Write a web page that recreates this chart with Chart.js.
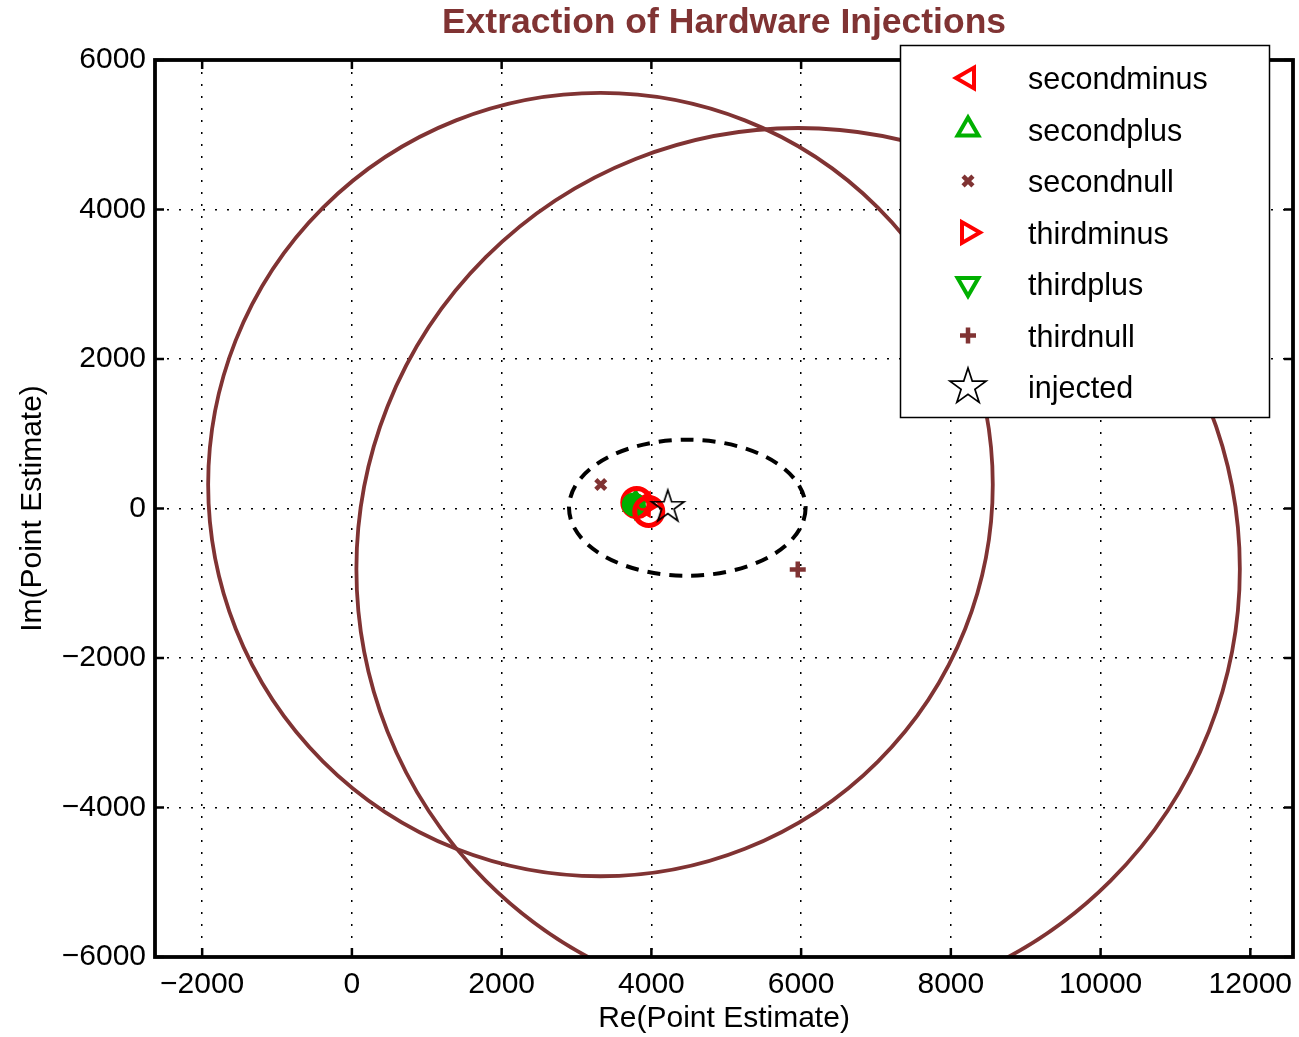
<!DOCTYPE html>
<html><head><meta charset="utf-8">
<script src="https://cdn.jsdelivr.net/npm/chart.js@4.4.1/dist/chart.umd.min.js"></script>
<style>html,body{margin:0;padding:0;background:#fff;overflow:hidden;}#wrap{width:1299px;height:1037px;position:relative;}canvas{display:block;}</style>
</head><body><div id="wrap"><canvas id="c"></canvas></div>
<script>
// ---- data ----
const seriesNames = ['secondminus','secondplus','secondnull','thirdminus','thirdplus','thirdnull','injected'];
const estimateRe  = [3885, 3790, 3324, 3905, 3780, 5955, 4219];
const estimateIm  = [54, 60, 321, 35, 45, -816, 20];
// spread of the individual estimates around the cluster
const spreadRe = [3805, 3765, 3965, 3885];
const spreadIm = [80, 54, -40, 54];
// circles of the null streams
const nullCircleRe = [3320, 5960];
const nullCircleIm = [320, -810];
const nullCircleRadius = [5240, 5900];
// dashed error ellipse
const ellipseCenter = [4480, 10];
const ellipseHalfAxes = [1580, 910];
// ticks / limits
const xTickValues = [-2000, 0, 2000, 4000, 6000, 8000, 10000, 12000];
const yTickValues = [-6000, -4000, -2000, 0, 2000, 4000, 6000];
const xLimits = [-2630, 12570];
const yLimits = [-6000, 6000];
const titleText = 'Extraction of Hardware Injections';
const xTitle = 'Re(Point Estimate)';
const yTitle = 'Im(Point Estimate)';

// ---- styles ----
const RED = '#ff0000', GREEN = '#00b000', MAROON = '#803333';
const FONT = '"Liberation Sans", Arial, Helvetica, sans-serif';
const fmt = v => (v < 0 ? '\u2212' + Math.abs(v) : String(v));

function starCanvas(R, lw) {
  const s = Math.ceil(2 * R + 2 * lw + 4);
  const c = document.createElement('canvas');
  c.width = s; c.height = s;
  const g = c.getContext('2d');
  g.translate(s / 2, s / 2);
  g.beginPath();
  for (let i = 0; i < 10; i++) {
    const a = -Math.PI / 2 + i * Math.PI / 5;
    const r = i % 2 ? R * 0.382 : R;
    const px = Math.cos(a) * r, py = Math.sin(a) * r;
    if (i === 0) g.moveTo(px, py); else g.lineTo(px, py);
  }
  g.closePath();
  g.lineWidth = lw; g.strokeStyle = '#000'; g.stroke();
  return c;
}
const starPlot = starCanvas(17, 1.7);
const starLegend = starCanvas(19, 1.7);

const styleOf = [
  {color: RED, pointStyle: 'triangle', rotation: -90, radius: 12, bw: 4},
  {color: GREEN, pointStyle: 'triangle', rotation: 0, radius: 12, bw: 4},
  {color: MAROON, pointStyle: 'crossRot', rotation: 0, radius: 7, bw: 4.5},
  {color: RED, pointStyle: 'triangle', rotation: 90, radius: 12, bw: 4},
  {color: GREEN, pointStyle: 'triangle', rotation: 180, radius: 12, bw: 4},
  {color: MAROON, pointStyle: 'cross', rotation: 0, radius: 8, bw: 4.5},
  {color: '#000', pointStyle: starPlot, rotation: 0, radius: 17, bw: 1.7, legendStyle: starLegend}
];

const datasets = seriesNames.map((name, i) => ({
  label: name,
  data: [{x: estimateRe[i], y: estimateIm[i]}],
  pointStyle: styleOf[i].pointStyle,
  rotation: styleOf[i].rotation,
  pointRadius: styleOf[i].radius,
  borderColor: styleOf[i].color,
  backgroundColor: 'rgba(255,255,255,0)',
  borderWidth: styleOf[i].bw,
  showLine: false,
  order: i === 6 ? 0 : 5
}));
// spread rings / disk
const spreadStyle = [
  {color: RED, fill: 'rgba(0,0,0,0)', r: 14, bw: 5, order: 4},
  {color: GREEN, fill: GREEN, r: 11, bw: 2, order: 3},
  {color: RED, fill: 'rgba(0,0,0,0)', r: 14, bw: 5, order: 2},
  {color: RED, fill: 'rgba(0,0,0,0)', r: 5, bw: 2.5, order: 1}
];
spreadRe.forEach((v, i) => datasets.push({
  label: 'spread' + i,
  data: [{x: v, y: spreadIm[i]}],
  pointStyle: 'circle',
  pointRadius: spreadStyle[i].r,
  borderColor: spreadStyle[i].color,
  backgroundColor: spreadStyle[i].fill,
  borderWidth: spreadStyle[i].bw,
  order: spreadStyle[i].order
}));

const shapesPlugin = {
  id: 'shapes',
  beforeDatasetsDraw(chart) {
    const {ctx, chartArea: a, scales: {x, y}} = chart;
    ctx.save();
    ctx.beginPath(); ctx.rect(a.left, a.top, a.right - a.left, a.bottom - a.top); ctx.clip();
    ctx.strokeStyle = MAROON; ctx.lineWidth = 3.8;
    nullCircleRe.forEach((cx, i) => {
      const px = x.getPixelForValue(cx), py = y.getPixelForValue(nullCircleIm[i]);
      const rx = x.getPixelForValue(cx + nullCircleRadius[i]) - px;
      const ry = py - y.getPixelForValue(nullCircleIm[i] + nullCircleRadius[i]);
      ctx.beginPath(); ctx.ellipse(px, py, rx, ry, 0, 0, Math.PI * 2); ctx.stroke();
    });
    const ex = x.getPixelForValue(ellipseCenter[0]), ey = y.getPixelForValue(ellipseCenter[1]);
    const erx = x.getPixelForValue(ellipseCenter[0] + ellipseHalfAxes[0]) - ex;
    const ery = ey - y.getPixelForValue(ellipseCenter[1] + ellipseHalfAxes[1]);
    ctx.strokeStyle = '#000'; ctx.lineWidth = 4; ctx.setLineDash([13, 9]);
    ctx.beginPath(); ctx.ellipse(ex, ey, erx, ery, 0, 0, Math.PI * 2); ctx.stroke();
    ctx.restore();
  },
  afterDatasetsDraw(chart) {
    const {ctx, chartArea: a, scales: {x, y}} = chart;
    ctx.save();
    ctx.strokeStyle = '#000'; ctx.lineWidth = 3.8;
    ctx.strokeRect(a.left, a.top, a.right - a.left, a.bottom - a.top);
    ctx.lineWidth = 2.5;
    const tl = 9;
    xTickValues.forEach(v => {
      const p = x.getPixelForValue(v);
      ctx.beginPath(); ctx.moveTo(p, a.bottom); ctx.lineTo(p, a.bottom - tl);
      ctx.moveTo(p, a.top); ctx.lineTo(p, a.top + tl); ctx.stroke();
    });
    yTickValues.forEach(v => {
      const p = y.getPixelForValue(v);
      ctx.beginPath(); ctx.moveTo(a.left, p); ctx.lineTo(a.left + tl, p);
      ctx.moveTo(a.right, p); ctx.lineTo(a.right - tl, p); ctx.stroke();
    });
    ctx.restore();
  },
  afterDraw(chart) {
    const {ctx, chartArea: a} = chart;
    ctx.save();
    // title
    ctx.fillStyle = MAROON; ctx.font = 'bold 35.5px ' + FONT;
    ctx.textAlign = 'center'; ctx.textBaseline = 'middle';
    ctx.fillText(titleText, (a.left + a.right) / 2, 23);
    // legend box
    const L = a.right - 393, T = a.top - 15, W = 369, H = 372;
    ctx.fillStyle = '#fff'; ctx.fillRect(L, T, W, H);
    ctx.strokeStyle = '#000'; ctx.lineWidth = 1.5; ctx.strokeRect(L + 0.5, T + 0.5, W, H);
    ctx.font = '30.5px ' + FONT; ctx.textAlign = 'left'; ctx.fillStyle = '#000';
    seriesNames.forEach((name, i) => {
      const yy = T + 33 + i * 51.5;
      const s = styleOf[i];
      ctx.save();
      ctx.strokeStyle = s.color; ctx.fillStyle = 'rgba(255,255,255,0)'; ctx.lineWidth = s.bw;
      Chart.helpers.drawPoint(ctx, {pointStyle: s.legendStyle || s.pointStyle, rotation: s.rotation,
        radius: s.radius, borderWidth: s.bw}, L + 68, yy);
      ctx.restore();
      ctx.fillStyle = '#000';
      ctx.fillText(name, L + 128, yy + 3);
    });
    ctx.restore();
  }
};

const axisFont = {family: FONT, size: 30};
new Chart(document.getElementById('c'), {
  type: 'scatter',
  data: {datasets},
  options: {
    responsive: true, maintainAspectRatio: false, animation: false,
    layout: {autoPadding: false, padding: {top: 60, right: 6, left: 0, bottom: 0}},
    plugins: {legend: {display: false}, tooltip: {enabled: false}, title: {display: false}},
    scales: {
      x: {
        type: 'linear', min: xLimits[0], max: xLimits[1],
        afterBuildTicks: s => { s.ticks = xTickValues.map(v => ({value: v})); },
        afterFit: s => { s.height = 80; s.paddingLeft = 0; s.paddingRight = 0; },
        ticks: {callback: v => fmt(v), font: axisFont, color: '#000', padding: 10, maxRotation: 0, autoSkip: false},
        grid: {color: '#000', lineWidth: 1.5, drawTicks: false},
        border: {display: false, dash: [2, 10]},
        title: {display: true, text: xTitle, font: axisFont, color: '#000', padding: {top: 0, bottom: 0}}
      },
      y: {
        type: 'linear', min: yLimits[0], max: yLimits[1],
        afterBuildTicks: s => { s.ticks = yTickValues.map(v => ({value: v})); },
        afterFit: s => { s.width = 155; s.paddingTop = 0; s.paddingBottom = 0; },
        ticks: {callback: v => fmt(v), font: axisFont, color: '#000', padding: 9, autoSkip: false},
        grid: {color: '#000', lineWidth: 1.5, drawTicks: false},
        border: {display: false, dash: [2, 10]},
        title: {display: true, text: yTitle, font: axisFont, color: '#000', padding: {top: 15, bottom: 0}}
      }
    }
  },
  plugins: [shapesPlugin]
});
</script></body></html>
